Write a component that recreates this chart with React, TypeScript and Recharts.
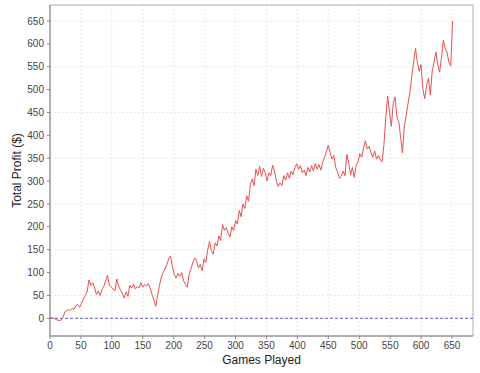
import React from 'react';
import {
  ComposedChart,
  Line,
  XAxis,
  YAxis,
  CartesianGrid,
  ReferenceLine,
  ReferenceArea,
} from 'recharts';

// total profit, one reading every STEP games (0, 3, 6, ... 651)
const STEP = 3;
const profit = [
  0, 1, 0, -2, -4, -5, -4, 2, 14, 17,
  19, 17, 21, 20, 28, 30, 24, 33, 42, 50,
  58, 84, 72, 78, 68, 52, 60, 50, 62, 70,
  82, 94, 72, 68, 64, 60, 86, 70, 62, 55,
  44, 58, 48, 72, 66, 74, 64, 70, 66, 78,
  68, 74, 70, 76, 66, 52, 40, 26, 50, 72,
  90, 100, 108, 118, 130, 136, 112, 96, 88, 98,
  92, 100, 82, 74, 68, 96, 108, 122, 132, 126,
  110, 118, 104, 130, 122, 150, 168, 148, 140, 165,
  158, 180, 170, 205, 192, 198, 186, 178, 200, 192,
  214, 206, 236, 222, 250, 240, 268, 256, 292, 305,
  290, 326, 312, 332, 310, 328, 318, 300, 318, 312,
  335, 322, 300, 288, 296, 290, 312, 302, 318, 306,
  322, 314, 330, 338, 326, 334, 318, 324, 312, 330,
  320, 334, 322, 338, 326, 336, 324, 342, 352, 365,
  378, 362, 348, 356, 330, 320, 306, 310, 322, 312,
  358, 340, 314, 330, 308, 334, 342, 360, 352, 372,
  388, 370, 376, 362, 352, 366, 348, 356, 346, 342,
  380, 440, 486, 450, 420, 470, 484, 440, 430, 395,
  362, 420, 444, 470, 494, 530, 560, 590, 560, 540,
  555, 500, 480, 510, 525, 488, 540, 560, 582, 555,
  538, 570, 608, 590, 582, 560, 552, 650,
];

const xTicks = [0, 50, 100, 150, 200, 250, 300, 350, 400, 450, 500, 550, 600, 650];
const yTicks = [0, 50, 100, 150, 200, 250, 300, 350, 400, 450, 500, 550, 600, 650];

const X_MAX = 684;
const Y_MIN = -38.7;
const Y_MAX = 685;

const data = profit.map((p, i) => ({ game: i * STEP, profit: p }));

const FONT = 'Liberation Sans, Arial, sans-serif';
const tickStyle = { fontFamily: FONT, fontSize: 10, fill: '#444' };

const YTitle = ({ viewBox }: any) => {
  const x = viewBox.x + 17;
  const y = viewBox.y + viewBox.height / 2;
  return (
    <text
      x={x}
      y={y}
      transform={`rotate(-90, ${x}, ${y})`}
      textAnchor="middle"
      dominantBaseline="central"
      fontFamily={FONT}
      fontSize={12}
      fill="#222"
    >
      Total Profit ($)
    </text>
  );
};

const XTitle = ({ viewBox }: any) => (
  <text
    x={viewBox.x + viewBox.width / 2}
    y={viewBox.y + 28}
    textAnchor="middle"
    fontFamily={FONT}
    fontSize={12}
    fill="#222"
  >
    Games Played
  </text>
);

export default function App() {
  return (
    <div style={{ position: 'absolute', left: 0, top: 0, width: 480, height: 373, background: '#fff' }}>
      <ComposedChart width={480} height={373} data={data} margin={{ top: 5, right: 7, left: 0, bottom: 0 }}>
        <CartesianGrid stroke="#e8e8e8" strokeDasharray="2 2" />
        <XAxis
          dataKey="game"
          type="number"
          domain={[0, X_MAX]}
          ticks={xTicks}
          height={37}
          tickSize={3}
          tickMargin={3}
          stroke="#888"
          tick={tickStyle}
          allowDataOverflow
          label={<XTitle />}
        />
        <YAxis
          type="number"
          domain={[Y_MIN, Y_MAX]}
          ticks={yTicks}
          width={50}
          tickSize={3}
          tickMargin={3}
          stroke="#888"
          tick={tickStyle}
          allowDataOverflow
          label={<YTitle />}
        />
        <ReferenceArea
          x1={0}
          x2={X_MAX}
          y1={Y_MIN}
          y2={Y_MAX}
          fill="none"
          stroke="#b4b4b4"
          ifOverflow="visible"
        />
        <ReferenceLine y={0} stroke="#5a5ad2" strokeDasharray="3 2" strokeWidth={1} />
        <Line
          type="linear"
          dataKey="profit"
          stroke="#e85050"
          strokeWidth={1}
          dot={false}
          isAnimationActive={false}
        />
      </ComposedChart>
    </div>
  );
}
